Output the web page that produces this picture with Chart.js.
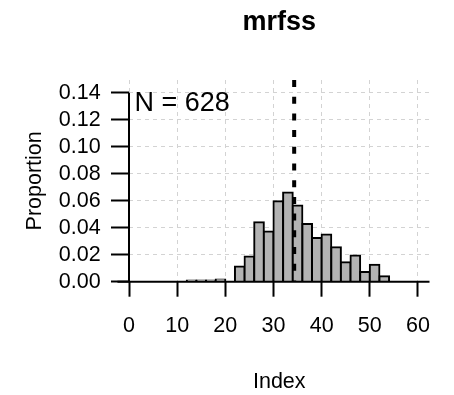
<!DOCTYPE html>
<html><head><meta charset="utf-8">
<script src="https://cdn.jsdelivr.net/npm/chart.js@4/dist/chart.umd.min.js"></script>
<style>html,body{margin:0;padding:0;background:#fff}</style>
</head><body>
<canvas id="c" width="454" height="395"></canvas>
<script>
// ---- data ----
const binStarts = [12, 14, 16, 18, 20, 22, 24, 26, 28, 30, 32, 34, 36, 38, 40, 42, 44, 46, 48, 50, 52];
const binWidth = 2;
const proportions = [0.0008, 0.0008, 0.0008, 0.0016, 0, 0.0113, 0.0187, 0.0440, 0.0372, 0.0596, 0.0662, 0.0565, 0.0428, 0.0323, 0.0350, 0.0256, 0.0145, 0.0195, 0.0071, 0.0125, 0.0041];
const meanIndex = [34.3];
const sampleSize = [628];
const xTicks = [0, 10, 20, 30, 40, 50, 60];
const yTicks = [0, 0.02, 0.04, 0.06, 0.08, 0.10, 0.12, 0.14];

const X_MIN = 0, X_MAX = 62.4, X_PLOT_MIN = -2.4;
const Y_MIN = 0, Y_MAX = 0.1495;
const FONT = "'Liberation Sans', Arial, Helvetica, sans-serif";

const axisPlugin = {
  id: 'rAxes',
  afterDatasetsDraw(chart) {
    const {ctx, chartArea, scales: {x, y}} = chart;
    ctx.save();
    ctx.strokeStyle = '#000';
    ctx.lineWidth = 2;
    ctx.setLineDash([]);
    ctx.beginPath();
    ctx.moveTo(x.getPixelForValue(X_PLOT_MIN), y.getPixelForValue(0));
    ctx.lineTo(x.getPixelForValue(X_MAX), y.getPixelForValue(0));
    ctx.stroke();
    ctx.beginPath();
    ctx.moveTo(x.getPixelForValue(0), y.getPixelForValue(yTicks[0]));
    ctx.lineTo(x.getPixelForValue(0), y.getPixelForValue(yTicks[yTicks.length - 1]));
    ctx.stroke();
    ctx.fillStyle = '#000';
    ctx.font = '27px ' + FONT;
    ctx.textAlign = 'left';
    ctx.textBaseline = 'alphabetic';
    ctx.fillText('N = ' + sampleSize[0], chartArea.left + 5.5, chartArea.top + 31);
    ctx.restore();
  }
};

new Chart(document.getElementById('c'), {
  type: 'bar',
  data: {
    datasets: [
      {
        type: 'bar',
        data: binStarts.map((s, i) => ({x: s + binWidth / 2, y: proportions[i]})),
        backgroundColor: '#b3b3b3',
        borderColor: '#000',
        borderWidth: 2,
        inflateAmount: 1,
        borderSkipped: 'start',
        barPercentage: 1,
        categoryPercentage: 1,
        order: 2
      },
      {
        type: 'line',
        data: [{x: meanIndex[0], y: Y_MAX}, {x: meanIndex[0], y: 0}],
        borderColor: '#000',
        borderWidth: 4,
        borderDash: [7, 9.7],
        pointRadius: 0,
        fill: false,
        clip: false,
        order: 1
      }
    ]
  },
  options: {
    responsive: false,
    animation: false,
    devicePixelRatio: 1,
    layout: {padding: {left: 0, right: 24.5, top: 0, bottom: 0}},
    plugins: {
      legend: {display: false},
      tooltip: {enabled: false},
      title: {
        display: true, text: 'mrfss', fullSize: false, color: '#000',
        font: {family: FONT, size: 27, weight: 'bold'},
        padding: {top: 6.5, bottom: 41.1}
      }
    },
    scales: {
      x: {
        type: 'linear', min: X_MIN, max: X_MAX, offset: false,
        afterBuildTicks: s => { s.ticks = xTicks.map(v => ({value: v})); },
        afterFit: s => { s.height = 113.3; },
        ticks: {color: '#000', font: {family: FONT, size: 21.5}, padding: 16.4, autoSkip: false, maxRotation: 0, callback: v => String(v)},
        grid: {offset: false, color: '#d3d3d3', lineWidth: 1, tickLength: 15, tickColor: '#000', tickWidth: 2},
        border: {display: false, dash: [4, 4]},
        title: {display: true, text: 'Index', color: '#000', font: {family: FONT, size: 21.5}, padding: {top: 31, bottom: 0}}
      },
      y: {
        min: Y_MIN, max: Y_MAX, offset: false,
        afterBuildTicks: s => { s.ticks = yTicks.map(v => ({value: v})); },
        afterFit: s => { s.width = 129; },
        ticks: {color: '#000', font: {family: FONT, size: 21.5}, padding: 10.3, autoSkip: false, callback: v => Number(v).toFixed(2)},
        grid: {offset: false, color: '#d3d3d3', lineWidth: 1, tickLength: 18, tickColor: '#000', tickWidth: 2},
        border: {display: false, dash: [4, 4]},
        title: {display: true, text: 'Proportion', color: '#000', font: {family: FONT, size: 21.5}, padding: {top: 22, bottom: 0}}
      }
    }
  },
  plugins: [axisPlugin]
});
</script>
</body></html>
